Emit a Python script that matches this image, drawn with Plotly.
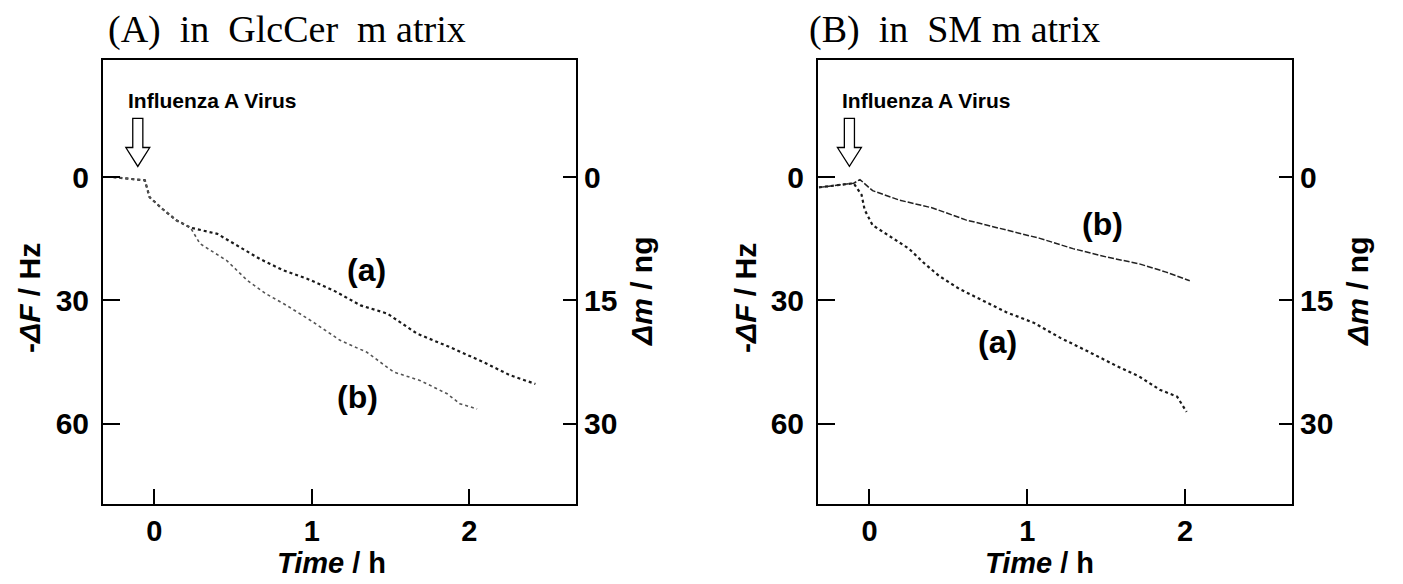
import plotly.graph_objects as go

# ---------------- data ----------------
# Panel A: in GlcCer matrix  (time in h, -dF in Hz)
a_time_A = [-0.26, -0.15, -0.06, -0.03, 0.05, 0.14, 0.23, 0.40, 0.54, 0.67, 0.82, 0.97,
            1.14, 1.31, 1.48, 1.67, 1.88, 2.09, 2.26, 2.42]
a_dF_A = [0.0, 0.5, 0.8, 4.9, 7.7, 10.5, 12.3, 13.8, 17.0, 19.9, 22.7, 24.7,
          27.6, 31.2, 33.2, 38.1, 41.4, 45.0, 48.2, 50.3]

b_time_A = [-0.26, -0.15, -0.06, -0.03, 0.05, 0.14, 0.23, 0.29, 0.46, 0.59, 0.71, 0.84,
            1.01, 1.18, 1.35, 1.52, 1.69, 1.86, 1.94, 2.05]
b_dF_A = [0.0, 0.5, 0.8, 4.9, 7.7, 10.5, 12.3, 16.2, 20.3, 25.1, 28.4, 31.2,
          35.3, 39.7, 42.6, 47.4, 49.5, 52.7, 55.1, 56.4]

# Panel B: in SM matrix
a_time_B = [-0.32, -0.20, -0.10, -0.05, -0.03, 0.02, 0.13, 0.25, 0.34, 0.44, 0.57, 0.72,
            0.87, 1.04, 1.21, 1.38, 1.57, 1.71, 1.84, 1.95, 2.01]
a_dF_B = [2.5, 2.0, 1.5, 4.3, 8.0, 11.7, 14.5, 17.4, 20.7, 24.0, 27.2, 30.1,
          32.9, 35.4, 39.1, 42.3, 46.0, 48.5, 51.7, 53.4, 57.1]

b_time_B = [-0.32, -0.20, -0.10, -0.06, 0.02, 0.19, 0.40, 0.61, 0.87, 1.08, 1.29,
            1.50, 1.71, 1.88, 2.03]
b_dF_B = [2.5, 2.0, 1.5, 0.6, 3.3, 5.6, 7.5, 10.4, 12.9, 14.9, 17.4,
          19.4, 21.1, 23.1, 25.2]

x_ticks = [0, 1, 2]
dF_ticks = [0, 30, 60]
dm_ticks = [0, 15, 30]
x_range = [-0.326, 2.678]
dF_range = [79.5, -28.6]
dm_range = [v / 2 for v in dF_range]

W, H = 1403, 584
SANS = "Liberation Sans, Arial, Helvetica, sans-serif"
SERIF = "Liberation Serif, Times New Roman, serif"


def px(x):
    return x / W


def py(y):
    return 1 - y / H


fig = go.Figure()

line_a = dict(color="#1a1a1a", width=2.2, dash="dot")
line_bA = dict(color="#555555", width=1.6, dash="dot")
line_bB = dict(color="#222222", width=1.5, dash="6px,2px")

fig.add_trace(go.Scatter(x=a_time_A, y=a_dF_A, mode="lines", line=line_a,
                         xaxis="x", yaxis="y", showlegend=False))
fig.add_trace(go.Scatter(x=b_time_A, y=b_dF_A, mode="lines", line=line_bA,
                         xaxis="x", yaxis="y", showlegend=False))
fig.add_trace(go.Scatter(x=[None], y=[None], xaxis="x", yaxis="y2", showlegend=False))
fig.add_trace(go.Scatter(x=a_time_B, y=a_dF_B, mode="lines", line=line_a,
                         xaxis="x2", yaxis="y3", showlegend=False))
fig.add_trace(go.Scatter(x=b_time_B, y=b_dF_B, mode="lines", line=line_bB,
                         xaxis="x2", yaxis="y3", showlegend=False))
fig.add_trace(go.Scatter(x=[None], y=[None], xaxis="x2", yaxis="y4", showlegend=False))

tickfont = dict(family=SANS, size=30, color="black", weight="bold")
xtickfont = dict(family=SANS, size=29, color="black", weight="bold")
ydom = [py(504), py(59.5)]
domA = [px(103), px(576)]
domB = [px(818), px(1292)]

common_x = dict(range=x_range, tickvals=x_ticks, ticks="inside", ticklen=15, tickwidth=2,
                showline=True, linewidth=2, linecolor="black", mirror=True,
                showgrid=False, zeroline=False, tickfont=xtickfont, tickcolor="black",
                ticklabelstandoff=0)
common_y = dict(range=dF_range, tickvals=dF_ticks, ticks="inside", ticklen=17, tickwidth=2,
                showline=True, linewidth=2, linecolor="black", showgrid=False,
                zeroline=False, tickfont=tickfont, tickcolor="black", domain=ydom,
                ticklabelstandoff=6)
common_y2 = dict(range=dm_range, tickvals=dm_ticks, ticks="inside", ticklen=13, tickwidth=2,
                 showline=True, linewidth=2, linecolor="black", showgrid=False,
                 zeroline=False, tickfont=tickfont, tickcolor="black", side="right")

fig.update_layout(
    width=W, height=H, margin=dict(l=0, r=0, t=0, b=0),
    plot_bgcolor="white", paper_bgcolor="white",
    xaxis=dict(common_x, domain=domA, anchor="y"),
    yaxis=dict(common_y, anchor="x"),
    yaxis2=dict(common_y2, overlaying="y", anchor="x"),
    xaxis2=dict(common_x, domain=domB, anchor="y3"),
    yaxis3=dict(common_y, anchor="x2"),
    yaxis4=dict(common_y2, overlaying="y3", anchor="x2"),
)

ann = []
# panel titles
tfont = dict(family=SERIF, size=38, color="black")
ann.append(dict(text="(A)\u00a0\u00a0in\u00a0\u00a0GlcCer\u00a0\u00a0m\u00a0atrix", x=px(106), y=py(29),
                xanchor="left", yanchor="middle", font=tfont))
ann.append(dict(text="(B)\u00a0\u00a0in\u00a0\u00a0SM\u00a0m\u00a0atrix", x=px(807), y=py(29),
                xanchor="left", yanchor="middle", font=tfont))
xlab = dict(family=SANS, size=29, color="black", weight="bold")
ylab = dict(family=SANS, size=30, color="black", weight="bold")
for xc in (331, 1039):
    ann.append(dict(text="<i>Time</i> / h", x=px(xc), y=py(563), xanchor="center",
                    yanchor="middle", font=xlab))
for xc in (29, 745):
    ann.append(dict(text="-<i>\u0394F</i> / Hz", x=px(xc), y=py(298), xanchor="center",
                    yanchor="middle", textangle=-90, font=ylab))
for xc in (641, 1357):
    ann.append(dict(text="<i>\u0394m</i> / ng", x=px(xc), y=py(292), xanchor="center",
                    yanchor="middle", textangle=-90, font=ylab))
# virus label
vfont = dict(family=SANS, size=21, color="black", weight="bold")
ann.append(dict(text="Influenza A Virus", x=px(126), y=py(100), xanchor="left",
                yanchor="middle", font=vfont))
ann.append(dict(text="Influenza A Virus", x=px(840), y=py(100), xanchor="left",
                yanchor="middle", font=vfont))
# curve labels
clab = dict(family=SANS, size=32, color="black", weight="bold")
ann.append(dict(text="(a)", x=1.35, y=22.5, xref="x", yref="y", showarrow=False, font=clab))
ann.append(dict(text="(b)", x=1.29, y=53.5, xref="x", yref="y", showarrow=False, font=clab))
ann.append(dict(text="(b)", x=1.48, y=11.5, xref="x2", yref="y3", showarrow=False, font=clab))
ann.append(dict(text="(a)", x=0.81, y=40.0, xref="x2", yref="y3", showarrow=False, font=clab))
for a in ann:
    a.setdefault("xref", "paper")
    a.setdefault("yref", "paper")
    a.setdefault("showarrow", False)
fig.update_layout(annotations=ann)

# hollow injection arrows (time of injection, in data units)
inj = [("x", "y", -0.105), ("x2", "y3", -0.127)]
shaft_top, head_base, tip = -14.3, -7.2, -2.6
sw, hw = 0.032, 0.076
for xr, yr, t0 in inj:
    path = (f"M {t0 - sw} {shaft_top} L {t0 + sw} {shaft_top} L {t0 + sw} {head_base} "
            f"L {t0 + hw} {head_base} L {t0} {tip} L {t0 - hw} {head_base} "
            f"L {t0 - sw} {head_base} Z")
    fig.add_shape(type="path", path=path, xref=xr, yref=yr,
                  line=dict(color="black", width=1.3), fillcolor="white")

fig.write_html("out.html", config={"displayModeBar": False},
               post_script="document.body.style.margin='0';")
